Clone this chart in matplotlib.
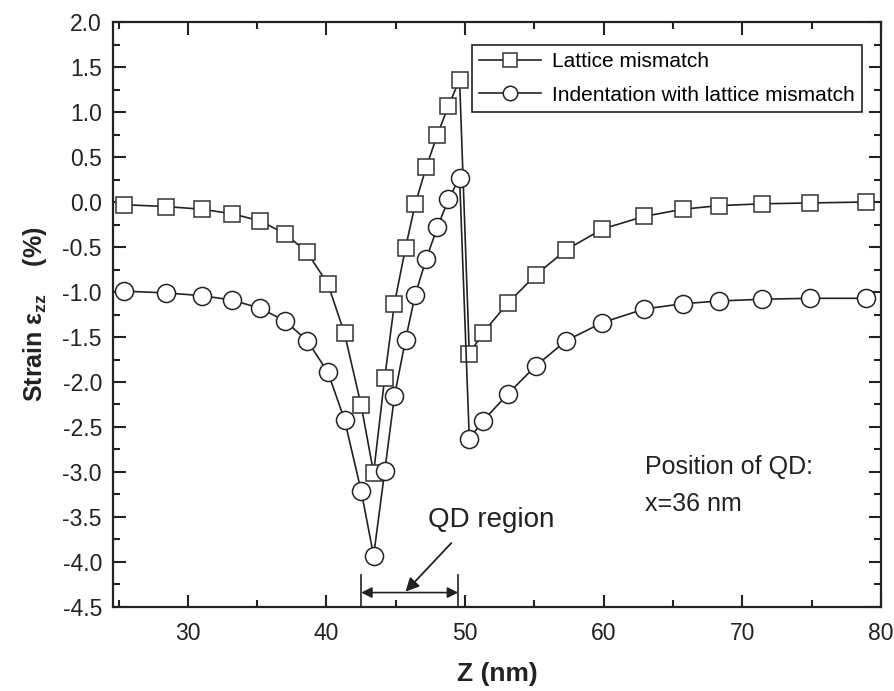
import numpy as np
import matplotlib
matplotlib.use("Agg")
import matplotlib.pyplot as plt
from matplotlib.ticker import MultipleLocator, FormatStrFormatter

plt.rcParams['font.family'] = ['Liberation Sans', 'DejaVu Sans']
plt.rcParams['mathtext.fontset'] = 'custom'
plt.rcParams['mathtext.rm'] = 'Liberation Sans'
plt.rcParams['mathtext.bf'] = 'Liberation Sans:bold'

# depth along z (nm)
z = [25.4, 28.4, 31.0, 33.2, 35.2, 37.0, 38.6, 40.1, 41.3, 42.5, 43.4,
     44.2, 44.9, 45.7, 46.4, 47.2, 48.0, 48.8, 49.6, 50.3, 51.3, 53.1,
     55.1, 57.3, 59.9, 62.9, 65.7, 68.3, 71.4, 74.9, 78.9]

# strain eps_zz (%)
lattice = [-0.03, -0.05, -0.08, -0.13, -0.21, -0.35, -0.56, -0.91, -1.46, -2.26, -3.01,
           -1.95, -1.13, -0.51, -0.02, 0.39, 0.75, 1.07, 1.36, -1.69, -1.45, -1.12,
           -0.81, -0.53, -0.30, -0.16, -0.08, -0.04, -0.02, -0.01, 0.00]
indent = [-0.99, -1.01, -1.04, -1.09, -1.18, -1.32, -1.54, -1.89, -2.42, -3.21, -3.93,
          -2.99, -2.16, -1.53, -1.03, -0.63, -0.28, 0.03, 0.27, -2.63, -2.43, -2.13,
          -1.82, -1.54, -1.34, -1.19, -1.13, -1.10, -1.08, -1.07, -1.07]

qd_left, qd_right = 42.5, 49.5

fig = plt.figure(figsize=(8.94, 6.91), dpi=100)
ax = fig.add_axes([0.1264, 0.1216, 0.8591, 0.8465])

ax.plot(z, lattice, color='#222222', lw=1.2, marker='s', ms=12, mfc='white',
        mec='#333333', mew=1.1, label='Lattice mismatch')
ax.plot(z, indent, color='#222222', lw=1.2, marker='o', ms=13, mfc='white',
        mec='#222222', mew=1.1, label='Indentation with lattice mismatch')

ax.set_xlim(24.6, 80)
ax.set_ylim(-4.5, 2.0)
ax.xaxis.set_major_locator(MultipleLocator(10))
ax.xaxis.set_minor_locator(MultipleLocator(5))
ax.yaxis.set_major_locator(MultipleLocator(0.5))
ax.yaxis.set_minor_locator(MultipleLocator(0.25))
ax.yaxis.set_major_formatter(FormatStrFormatter('%.1f'))
ax.tick_params(which='both', direction='in', top=True, right=True, width=1.5,
               colors='#222222', labelcolor='#222222')
ax.tick_params(which='major', length=9, labelsize=16.5)
ax.tick_params(axis='x', which='major', pad=11)
ax.tick_params(axis='y', which='major', pad=8)
ax.tick_params(which='minor', length=5)
for s in ax.spines.values():
    s.set_linewidth(1.6)
    s.set_color('#222222')

ax.set_xlabel('Z (nm)', fontsize=19, fontweight='bold', labelpad=12, color='#222222')
ax.set_ylabel(r'Strain $\mathbf{\epsilon_{zz}}$    (%)', fontsize=18, fontweight='bold',
              labelpad=10, color='#222222')

leg = ax.legend(loc='upper right', bbox_to_anchor=(0.975, 0.961), fontsize=15,
                handlelength=3.0, handletextpad=0.5, borderpad=0.35, borderaxespad=0,
                labelspacing=0.7, fancybox=False, framealpha=1, markerscale=0.8)
leg.get_frame().set_edgecolor('#222222')
leg.get_frame().set_linewidth(1.2)

# QD region bracket
ax.plot([qd_left, qd_left], [-4.5, -4.14], color='#222222', lw=1.2, clip_on=False)
ax.plot([qd_right, qd_right], [-4.5, -4.14], color='#222222', lw=1.2, clip_on=False)
ax.annotate('', xy=(qd_left, -4.34), xytext=(qd_right, -4.34),
            arrowprops=dict(arrowstyle='<|-|>', color='#222222', lw=1.2,
                            mutation_scale=16, shrinkA=0, shrinkB=0))
ax.annotate('', xy=(45.7, -4.33), xytext=(49.0, -3.79),
            arrowprops=dict(arrowstyle='-|>', color='#222222', lw=1.3,
                            mutation_scale=20, shrinkA=0, shrinkB=0))
ax.text(47.3, -3.53, 'QD region', fontsize=20, color='#222222', va='center', ha='left')
ax.text(63.0, -2.94, 'Position of QD:', fontsize=18, color='#222222', va='center', ha='left')
ax.text(63.0, -3.36, 'x=36 nm', fontsize=18, color='#222222', va='center', ha='left')

fig.savefig('out.png', dpi=100)
